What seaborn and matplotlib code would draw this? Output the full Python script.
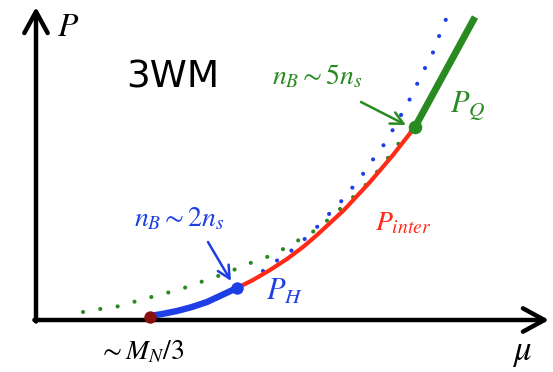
import matplotlib
matplotlib.use("Agg")
import matplotlib.pyplot as plt
import seaborn as sns

sns.set_style("white")
plt.rcParams["mathtext.fontset"] = "stix"

# Hadronic branch P_H (from the onset ~M_N/3 up to n_B ~ 2 n_s)
ph_mu = [113, 125, 140, 155, 170, 185, 200]
ph_p = [4, 6, 9, 13, 18, 25, 32]

# Interpolated branch P_inter (n_B ~ 2 n_s to n_B ~ 5 n_s)
pint_mu = [200, 216, 233, 250, 266, 280, 293, 307, 320, 333, 345, 356, 367, 378]
pint_p = [32, 40, 50, 61, 73, 85, 97, 110, 124, 138, 152, 165, 179, 193]

# Quark branch P_Q (above n_B ~ 5 n_s)
pq_mu = [378, 408, 438]
pq_p = [193, 248, 303]

# Extrapolations shown dotted
qext_mu = [46, 63, 78, 91, 105, 119, 133, 147, 161, 175, 190, 203, 216, 230,
           243, 256, 270, 281, 292, 303, 325, 335, 344, 354, 362, 378]
qext_p = [8, 11, 13, 16, 21, 24, 28, 32, 37, 42, 47, 53, 58, 63,
          69, 77, 84, 92, 101, 111, 131, 142, 153, 166, 177, 193]
hext_mu = [226, 236, 249, 260, 271, 282, 292, 302, 311, 320, 329, 337, 346,
           354, 368, 375, 381, 388, 395, 400, 405, 411]
hext_p = [49, 57, 65, 74, 84, 95, 106, 116, 127, 138, 150, 162, 174,
          187, 212, 225, 238, 252, 265, 278, 292, 305]

# Marked points: onset, n_B ~ 2 n_s, n_B ~ 5 n_s
onset = (113, 3)
pt_2ns = (200, 32)
pt_5ns = (378, 193)

GREEN = "#2a8a22"
BLUE = "#1f3fe6"
RED = "#ff2a18"
DARKRED = "#8a1010"

fig = plt.figure(figsize=(5.53, 3.72), dpi=100)
ax = fig.add_axes([0, 0, 1, 1])
ax.set_xlim(-37, 516)
ax.set_ylim(-52, 320)
ax.set_axis_off()

sns.lineplot(x=qext_mu, y=qext_p, sort=False, ax=ax, color=GREEN, lw=3.0,
             linestyle=(0, (0.01, 4.2)), dash_capstyle="round", zorder=2)
sns.lineplot(x=hext_mu, y=hext_p, sort=False, ax=ax, color=BLUE, lw=3.0,
             linestyle=(0, (0.01, 4.2)), dash_capstyle="round", zorder=2)
sns.lineplot(x=pint_mu, y=pint_p, sort=False, ax=ax, color=RED, lw=3.0,
             solid_capstyle="round", solid_joinstyle="round", zorder=3)
sns.lineplot(x=ph_mu, y=ph_p, sort=False, ax=ax, color=BLUE, lw=4.6,
             solid_capstyle="round", solid_joinstyle="round", zorder=3)
sns.lineplot(x=pq_mu, y=pq_p, sort=False, ax=ax, color=GREEN, lw=5.0,
             solid_capstyle="butt", zorder=3)

sns.scatterplot(x=[onset[0]], y=[onset[1]], ax=ax, color=DARKRED, s=80,
                linewidth=0, zorder=5)
sns.scatterplot(x=[pt_2ns[0]], y=[pt_2ns[1]], ax=ax, color=BLUE, s=80,
                linewidth=0, zorder=5)
sns.scatterplot(x=[pt_5ns[0]], y=[pt_5ns[1]], ax=ax, color=GREEN, s=95,
                linewidth=0, zorder=5)

# Coordinate axes with open arrowheads
axis_arrow = dict(arrowstyle="->,head_length=0.55,head_width=0.3", lw=3.2,
                  color="black", shrinkA=0, shrinkB=0, mutation_scale=28)
ax.annotate("", xy=(-1, 313), xytext=(-1, -1.5), arrowprops=axis_arrow,
            zorder=4)
ax.annotate("", xy=(512, 0), xytext=(-2.6, 0), arrowprops=axis_arrow,
            zorder=4)

# Axis labels
ax.text(31, 293, "$P$", fontsize=24, ha="center", va="center", color="black")
ax.text(475, -40, r"$\mu$", fontsize=25, ha="left", va="baseline",
        color="black")
ax.text(104, -39, r"$\sim M_N/3$", fontsize=20, ha="center", va="baseline",
        color="black")

ax.text(136, 243, "3WM", fontsize=27, ha="center", va="center",
        color="black", family="DejaVu Sans")

# Branch labels
ax.text(413, 208, "$P_Q$", fontsize=22, ha="left", va="baseline", color=GREEN)
ax.text(229, 20, "$P_H$", fontsize=22, ha="left", va="baseline", color=BLUE)
ax.text(338, 90, "$P_{inter}$", fontsize=20, ha="left", va="baseline",
        color=RED)

# Density annotations with pointers
ax.text(142, 94, r"$n_B\sim 2n_s$", fontsize=20, color=BLUE, ha="center",
        va="baseline")
ax.text(280, 236, r"$n_B\sim 5n_s$", fontsize=20, color=GREEN, ha="center",
        va="baseline")
pointer = dict(arrowstyle="->,head_length=0.5,head_width=0.25", lw=1.8,
               shrinkA=0, shrinkB=0, mutation_scale=18)
ax.annotate("", xy=(194, 39), xytext=(171, 78),
            arrowprops=dict(pointer, color=BLUE))
ax.annotate("", xy=(369, 195), xytext=(324, 218),
            arrowprops=dict(pointer, color=GREEN))

fig.savefig("out.png", dpi=100)
